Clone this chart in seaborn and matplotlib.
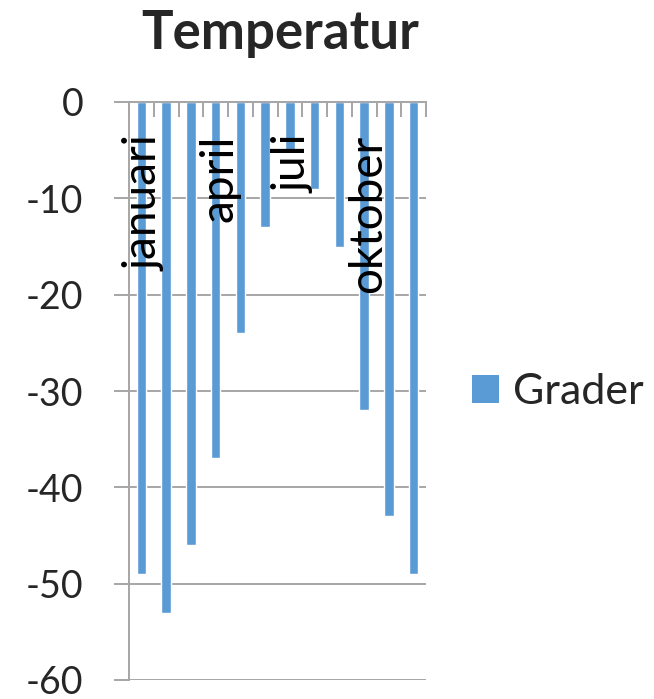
import matplotlib
matplotlib.use("Agg")
import matplotlib.pyplot as plt
import seaborn as sns
import pandas as pd
from matplotlib.patches import Patch

months = ["januari", "februari", "mars", "april", "maj", "juni",
          "juli", "augusti", "september", "oktober", "november", "december"]
grader = [-49, -53, -46, -37, -24, -13, -5, -9, -15, -32, -43, -49]
shown_labels = ["januari", "april", "juli", "oktober"]
yticks = [0, -10, -20, -30, -40, -50, -60]
series_name = "Grader"
title = "Temperatur"

BAR = "#5B9BD5"
GRID = "#A6A6A6"
FONT = "Lato"

sns.set_style("white")
plt.rcParams["font.family"] = [FONT, "DejaVu Sans"]

fig = plt.figure(figsize=(6.54, 6.99), dpi=100)
ax = fig.add_axes([129/654, 1-680/699, (426-129)/654, (680-102)/699])

df = pd.DataFrame({"month": months, "grader": grader})
sns.barplot(data=df, x="month", y="grader", color=BAR, width=0.38,
            saturation=1, ax=ax, zorder=2)

ax.set_xlim(-0.5, len(months) - 0.5)
ax.set_ylim(-60, 0)
ax.set_xlabel("")
ax.set_ylabel("")

# y axis
ax.set_yticks(yticks)
ax.set_yticklabels([str(v) for v in yticks], fontsize=27)
ax.yaxis.grid(True, color=GRID, linewidth=1.4, zorder=0)
ax.tick_params(axis="y", direction="out", length=11, width=1.4, color=GRID,
               pad=22, left=True)
for lbl in ax.get_yticklabels():
    lbl.set_verticalalignment("center_baseline")

# category axis at top (value 0)
bounds = [i - 0.5 for i in range(len(months) + 1)]
ax.set_xticks(bounds)
ax.set_xticklabels([])
ax.tick_params(axis="x", direction="in", length=11, width=1.4, color=GRID,
               bottom=False, top=True, labelbottom=False)

for s in ["left", "top"]:
    ax.spines[s].set_color(GRID)
    ax.spines[s].set_linewidth(1.4)
for s in ["right", "bottom"]:
    ax.spines[s].set_visible(False)

for i, m in enumerate(months):
    if m in shown_labels:
        ax.text(i + 0.15, -3.4, m, rotation=90, ha="center", va="top",
                fontsize=33, color="black", zorder=3)

fig.text(280/654, 1-34/699, title, ha="center", va="center",
         fontsize=38, fontweight="bold")

handles = [Patch(facecolor=BAR, edgecolor="none", label=series_name)]
fig.legend(handles=handles, loc="center left", bbox_to_anchor=(472/654, 1-392/699),
           frameon=False, fontsize=31, handlelength=0.63, handleheight=0.63,
           handletextpad=0.33, borderaxespad=0, borderpad=0)

fig.savefig("out.png", dpi=100)
